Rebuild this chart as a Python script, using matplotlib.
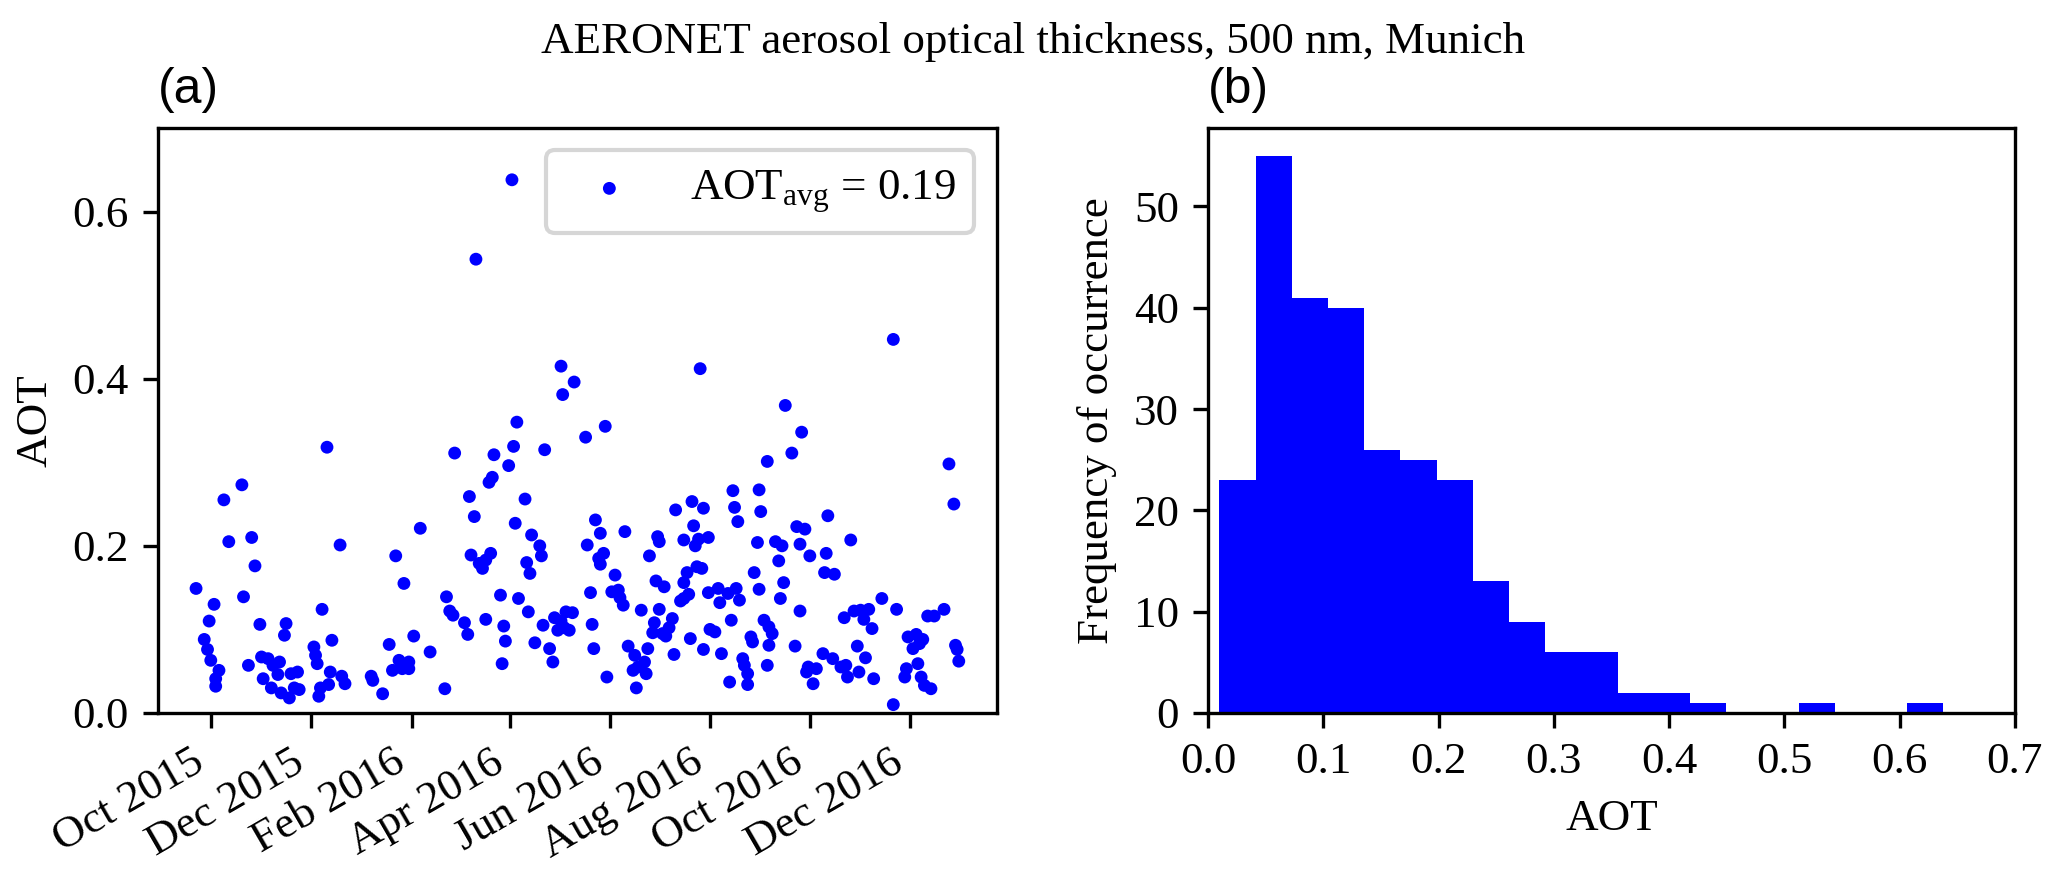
import numpy as np
import pandas as pd
import matplotlib
matplotlib.use("Agg")
import matplotlib.pyplot as plt
import matplotlib.dates as mdates
from matplotlib.ticker import MultipleLocator

plt.rcParams.update({
    "font.family": "Liberation Serif",
    "font.size": 10.8,
    "mathtext.fontset": "custom",
    "mathtext.rm": "Liberation Serif",
    "mathtext.it": "Liberation Serif:italic",
    "axes.linewidth": 0.8,
})

# daily AOT (500 nm); day 0 = 2015-10-01
day_offset = [
    -9, -4, -2, -1, 0, 2, 3, 3, 5, 8, 11, 19, 20, 23, 25, 27, 30, 31, 32, 35,
    37, 38, 41, 42, 43, 45, 46, 48, 49, 51, 53, 54, 63, 64, 65, 66, 67, 68, 71, 72,
    73, 74, 79, 80, 82, 98, 99, 105, 109, 111, 113, 115, 117, 118, 121, 121, 124, 128, 134,
    143, 144, 146, 148, 149, 155, 157, 158, 159, 161, 162, 164, 166, 168, 168, 170, 171, 172, 173, 177,
    178, 179, 180, 182, 184, 185, 186, 187, 188, 192, 193, 194, 195, 196, 198, 201, 202, 203, 204, 207,
    209, 210, 212, 214, 214, 215, 216, 217, 219, 221, 222, 229, 230, 232, 233, 234, 235, 237, 238, 238,
    240, 241, 242, 245, 247, 249, 250, 252, 253, 255, 258, 259, 260, 261, 263, 265, 266, 267, 268, 270,
    271, 272, 273, 274, 274, 276, 277, 278, 280, 282, 283, 284, 287, 289, 289, 289, 291, 292, 293, 294,
    295, 296, 297, 298, 299, 300, 301, 301, 304, 304, 305, 319, 320, 322,
    308, 310, 311, 312, 316, 317, 318, 321, 323, 325, 326, 328, 328, 330, 331, 332, 334, 335, 335, 336,
    338, 340, 340, 341, 341, 343, 345, 347, 348, 349, 350, 351, 355, 357, 358, 360, 360, 361, 363, 364,
    365, 366, 368, 370, 374, 375, 376, 377, 380, 381, 385, 387, 388, 389, 391, 393, 395, 396, 397, 399,
    400, 402, 404, 405, 410, 417, 417, 419, 424, 425, 426, 429, 431, 432, 433, 434, 435, 436, 438, 440,
    442, 448, 451, 454, 455, 456, 457,
]
aot = [
    0.149, 0.088, 0.076, 0.110, 0.063, 0.130, 0.041, 0.032, 0.051, 0.255, 0.205, 0.273, 0.139, 0.057, 0.210, 0.176, 0.106, 0.067, 0.041, 0.065,
    0.030, 0.057, 0.046, 0.061, 0.024, 0.093, 0.107, 0.018, 0.047, 0.030, 0.049, 0.028, 0.079, 0.069, 0.059, 0.020, 0.030, 0.124, 0.318, 0.034,
    0.049, 0.087, 0.201, 0.044, 0.035, 0.044, 0.039, 0.023, 0.082, 0.051, 0.188, 0.063, 0.053, 0.155, 0.053, 0.061, 0.092, 0.221, 0.073,
    0.029, 0.139, 0.122, 0.117, 0.311, 0.108, 0.094, 0.259, 0.189, 0.235, 0.543, 0.179, 0.173, 0.183, 0.112, 0.276, 0.191, 0.282, 0.309, 0.141,
    0.059, 0.104, 0.086, 0.296, 0.638, 0.319, 0.227, 0.348, 0.137, 0.256, 0.180, 0.121, 0.167, 0.213, 0.084, 0.200, 0.188, 0.105, 0.315, 0.077,
    0.061, 0.114, 0.099, 0.110, 0.415, 0.381, 0.102, 0.121, 0.099, 0.120, 0.396, 0.330, 0.201, 0.144, 0.106, 0.077, 0.231, 0.185, 0.178, 0.215,
    0.191, 0.343, 0.043, 0.145, 0.165, 0.147, 0.138, 0.129, 0.217, 0.080, 0.051, 0.069, 0.030, 0.055, 0.123, 0.061, 0.047, 0.077, 0.188, 0.096,
    0.108, 0.158, 0.211, 0.205, 0.124, 0.095, 0.151, 0.092, 0.102, 0.113, 0.070, 0.243, 0.134, 0.207, 0.156, 0.137, 0.168, 0.142, 0.089, 0.253,
    0.224, 0.200, 0.175, 0.208, 0.412, 0.173, 0.245, 0.076, 0.144, 0.210, 0.100, 0.266, 0.246, 0.229,
    0.097, 0.149, 0.132, 0.071, 0.143, 0.037, 0.111, 0.149, 0.135, 0.065, 0.057, 0.047, 0.034, 0.091, 0.085, 0.168, 0.204, 0.148, 0.267, 0.241,
    0.111, 0.057, 0.301, 0.103, 0.081, 0.095, 0.205, 0.182, 0.137, 0.200, 0.156, 0.368, 0.311, 0.080, 0.223, 0.202, 0.122, 0.336, 0.220, 0.049,
    0.055, 0.188, 0.035, 0.053, 0.071, 0.168, 0.191, 0.236, 0.065, 0.166, 0.055, 0.114, 0.057, 0.043, 0.207, 0.122, 0.080, 0.049, 0.123, 0.112,
    0.066, 0.124, 0.101, 0.041, 0.137, 0.010, 0.447, 0.124, 0.043, 0.053, 0.091, 0.077, 0.094, 0.059, 0.083, 0.043, 0.088, 0.033, 0.116, 0.029,
    0.116, 0.124, 0.298, 0.250, 0.081, 0.076, 0.062,
]
aot_avg_label = r"AOT$_{\rm avg}$ = 0.19"

# bar heights of panel (b), 20 equal bins between min and max AOT
hist_counts = [23, 55, 41, 40, 26, 25, 23, 13, 9, 6,
               6, 2, 2, 1, 0, 0, 1, 0, 0, 1]

dates = pd.Timestamp("2015-10-01") + pd.to_timedelta(day_offset, unit="D")
edges = np.linspace(min(aot), max(aot), len(hist_counts) + 1)

fig = plt.figure(figsize=(2067 / 300, 876 / 300), dpi=300)
ax1 = fig.add_axes([0.0764, 0.1861, 0.4059, 0.6678])
ax2 = fig.add_axes([0.5844, 0.1861, 0.3904, 0.6678])

# (a) time series
ax1.scatter(dates, aot, s=9.5, color="blue", edgecolors="none",
            label=aot_avg_label)
ax1.set_ylim(0, 0.7)
ax1.yaxis.set_major_locator(MultipleLocator(0.2))
ax1.xaxis.set_major_locator(mdates.MonthLocator(bymonth=[2, 4, 6, 8, 10, 12]))
ax1.xaxis.set_major_formatter(mdates.DateFormatter("%b %Y"))
plt.setp(ax1.get_xticklabels(), rotation=30, ha="right")
ax1.set_ylabel("AOT")
ax1.legend(loc="upper right")
ax1.set_title("(a)", loc="left", family="Liberation Sans", fontsize=12)

# (b) histogram
ax2.hist(edges[:-1], bins=edges, weights=hist_counts, color="blue")
ax2.set_xlim(0, 0.7)
ax2.xaxis.set_major_locator(MultipleLocator(0.1))
ax2.set_xlabel("AOT")
ax2.set_ylabel("Frequency of occurrence")
ax2.set_title("(b)", loc="left", family="Liberation Sans", fontsize=12)

fig.text(0.5, 1 - 53 / 876, "AERONET aerosol optical thickness, 500 nm, Munich",
         ha="center", va="baseline")

fig.savefig("out.png", dpi=300)
